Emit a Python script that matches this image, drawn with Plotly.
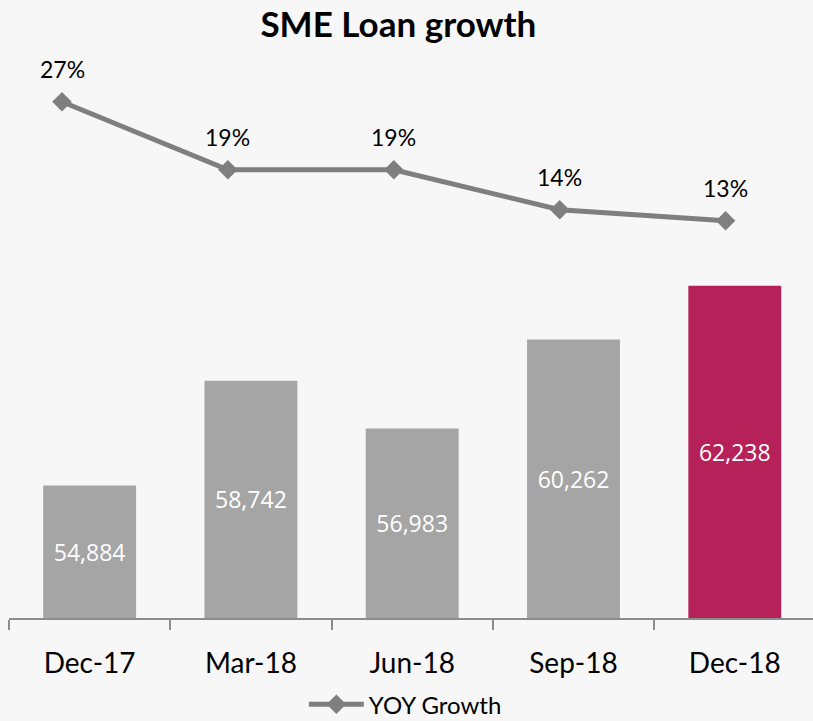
import plotly.graph_objects as go

categories = ["Dec-17", "Mar-18", "Jun-18", "Sep-18", "Dec-18"]
loan_values = [54884, 58742, 56983, 60262, 62238]
yoy_growth = [0.27, 0.19, 0.19, 0.143, 0.13]
bar_colors = ["#A5A5A5", "#A5A5A5", "#A5A5A5", "#A5A5A5", "#B52158"]
AXIS_MIN = 50000
AXIS_MAX = 70000

fig = go.Figure()

fig.add_trace(go.Bar(
    x=categories,
    y=[v - AXIS_MIN for v in loan_values],
    base=AXIS_MIN,
    marker=dict(color=bar_colors, line=dict(width=0)),
    text=[f"{v:,}" for v in loan_values],
    textposition="inside",
    insidetextanchor="middle",
    textangle=0,
    textfont=dict(family="Open Sans", size=23, color="white"),
    showlegend=False,
    hoverinfo="skip",
))

fig.add_trace(go.Scatter(
    x=categories,
    y=yoy_growth,
    mode="lines+markers",
    name="YOY Growth",
    line=dict(color="#7F7F7F", width=5),
    marker=dict(symbol="diamond", size=15, color="#7F7F7F"),
    xaxis="x2",
    yaxis="y2",
))

for c, v in zip(categories, yoy_growth):
    fig.add_annotation(
        x=c, y=v, xref="x2", yref="y2",
        text=f"{v:.0%}", showarrow=False, yshift=33,
        font=dict(family="Lato", size=23, color="black"),
    )

fig.update_layout(
    width=813, height=721,
    margin=dict(l=9, r=0, t=75, b=103, autoexpand=False),
    paper_bgcolor="#F7F7F7",
    plot_bgcolor="#F7F7F7",
    bargap=0.424,
    title=dict(
        text="<b>SME Loan growth</b>",
        x=0.49, xref="container", xanchor="center",
        y=1 - 25 / 721, yref="container", yanchor="middle",
        font=dict(family="Lato", size=35, color="black"),
    ),
    xaxis=dict(
        type="category",
        range=[-0.5, 4.485],
        showline=True, linecolor="#8C8C8C", linewidth=1.5,
        ticks="outside", tickson="boundaries", ticklen=10,
        tickcolor="#8C8C8C", tickwidth=1.5,
        showgrid=False, zeroline=False,
        tickfont=dict(family="Lato", size=28, color="black"),
        ticklabelstandoff=20,
    ),
    xaxis2=dict(
        type="category",
        overlaying="x",
        range=[-0.3195, 4.527],
        visible=False,
    ),
    yaxis=dict(range=[AXIS_MIN, AXIS_MAX], visible=False, showgrid=False),
    yaxis2=dict(range=[-0.3374, 0.3015], overlaying="y", visible=False,
                showgrid=False),
    legend=dict(
        orientation="h",
        x=0.493, xanchor="center",
        y=-0.201, yanchor="bottom",
        itemwidth=55,
        font=dict(family="Lato", size=24, color="black"),
        bgcolor="rgba(0,0,0,0)",
    ),
)

fig.write_html(
    "out.html",
    config={"displayModeBar": False},
    post_script="document.body.style.margin='0';document.body.style.overflow='hidden';",
)
